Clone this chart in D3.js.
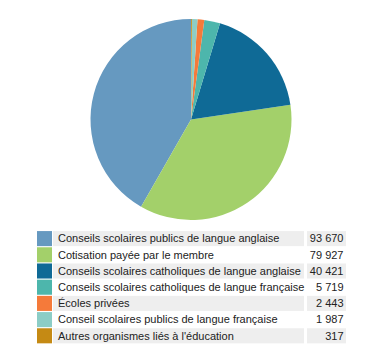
<!DOCTYPE html>
<html><head><meta charset="utf-8">
<script src="https://cdn.jsdelivr.net/npm/d3@7"></script>
<style>body{margin:0;background:#fff}svg{display:block}</style>
</head><body>
<script>
const categories = [
  "Conseils scolaires publics de langue anglaise",
  "Cotisation payée par le membre",
  "Conseils scolaires catholiques de langue anglaise",
  "Conseils scolaires catholiques de langue française",
  "Écoles privées",
  "Conseil scolaires publics de langue française",
  "Autres organismes liés à l'éducation"
];
const values = [93670, 79927, 40421, 5719, 2443, 1987, 317];
const valueLabels = ["93 670", "79 927", "40 421", "5 719", "2 443", "1 987", "317"];
const colors = ["#6699c0", "#a3d06a", "#0f6a96", "#4db6ac", "#f57a3a", "#8ccdc6", "#c58a14"];

const W = 380, H = 355;
const svg = d3.select("body").append("svg").attr("width", W).attr("height", H);

const cx = 191, cy = 119.5, r = 100.5;
const pie = d3.pie().sort(null).startAngle(0).endAngle(-2 * Math.PI).value(d => d);
const arc = d3.arc().innerRadius(0).outerRadius(r);
const color = d3.scaleOrdinal().domain(categories).range(colors);

svg.append("g").attr("transform", `translate(${cx},${cy})`)
  .selectAll("path").data(pie(values)).join("path")
  .attr("d", arc)
  .attr("fill", (d, i) => color(categories[i]));

const y = d3.scaleBand().domain(categories).range([230.5, 230.5 + 16.2 * 7]).paddingInner(0.07).paddingOuter(0.035);
const lg = svg.append("g").style("font-family", "'Liberation Sans', Arial, sans-serif").style("font-size", "11px");
const rows = lg.selectAll("g").data(categories).join("g")
  .attr("transform", d => `translate(0,${y(d)})`);
const bh = y.bandwidth();
rows.append("rect").attr("x", 37).attr("width", 15).attr("height", bh).attr("fill", d => color(d));
rows.filter((d, i) => i % 2 === 0).append("rect").attr("x", 53).attr("width", 251).attr("height", bh).attr("fill", "#eeeeee");
rows.filter((d, i) => i % 2 === 0).append("rect").attr("x", 307).attr("width", 39).attr("height", bh).attr("fill", "#eeeeee");
rows.append("text").attr("x", 58).attr("y", bh / 2).attr("dy", "0.35em").attr("fill", "#222").text(d => d);
rows.append("text").attr("x", 343.5).attr("y", bh / 2).attr("dy", "0.35em").attr("text-anchor", "end").attr("fill", "#222")
  .text((d, i) => valueLabels[i]);
</script>
</body></html>
